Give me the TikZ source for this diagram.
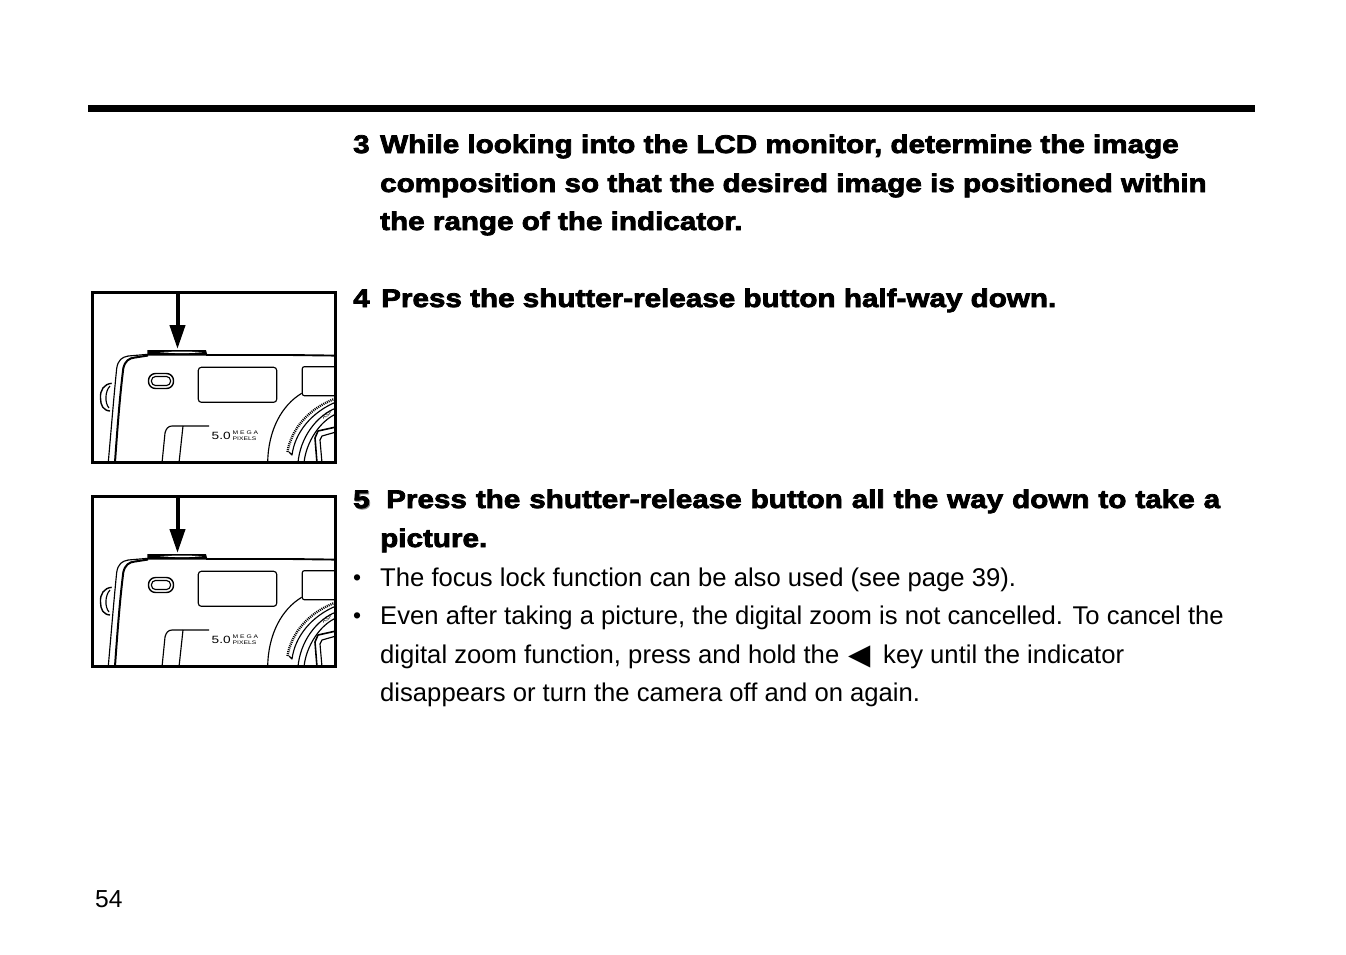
\documentclass[tikz,border=0pt]{standalone}
\usepackage{fontspec}
\usetikzlibrary{arrows.meta}
\setmainfont{Liberation Sans}
\newfontfamily\heavyfont[FakeBold=3,FakeStretch=1.162]{Liberation Sans Bold}
\newfontfamily\markfont[FakeStretch=1.3]{Liberation Sans}
\newfontfamily\symbolfont{DejaVu Sans}

\tikzset{
    heavyline/.style={anchor=base west,inner sep=0pt,font=\heavyfont\fontsize{25.5}{30}\selectfont},
    bodyline/.style={anchor=base west,inner sep=0pt,font=\fontsize{25.65}{30}\selectfont},
    bulletdot/.style={anchor=base west,inner sep=0pt,font=\fontsize{23}{30}\selectfont},
    marktext/.style={anchor=west,inner sep=0pt,align=left,font=\markfont\fontsize{5.2}{6.4}\selectfont},
    camline/.style={line width=1.15pt,line join=round},
}

\begin{document}
\begin{tikzpicture}[x=1pt,y=-1pt]
    \useasboundingbox (0,0) rectangle (1346,954);

    \fill [black] (88,105) rectangle (1255,112);

    \node [heavyline] (num3) at (353,153) {3};
    \node [heavyline] (line3a) at (380,153) {While looking into the LCD monitor, determine the image};
    \node [heavyline] (line3b) at (380,192) {composition so that the desired image is positioned within};
    \node [heavyline] (line3c) at (380,230) {the range of the indicator.};

    \node [heavyline] (num4) at (353,307) {4};
    \node [heavyline] (line4a) at (381,307) {Press the shutter-release button half-way down.};

    \node [heavyline,text=black!45] (num5back) at (354,509) {5};
    \node [heavyline] (num5) at (353,508) {5};
    \node [heavyline] (line5a) at (386,508) {\spaceskip=1.09\fontdimen2\font Press the shutter-release button all the way down to take a};
    \node [heavyline] (line5b) at (380,547) {picture.};

    \node [bulletdot] (dot1) at (353,585) {•};
    \node [bodyline] (line6a) at (380,586) {The focus lock function can be also used (see page 39).};
    \node [bulletdot] (dot2) at (353,623) {•};
    \node [bodyline] (line7a) at (380,624) {Even after taking a picture, the digital zoom is not cancelled. To cancel the};
    \node [bodyline] (line7b) at (380,663) {digital zoom function, press and hold the};
    \node [bodyline,font=\symbolfont\fontsize{29}{30}\selectfont] (keyleft) at (848,664) {◀};
    \node [bodyline] (line7c) at (883,663) {key until the indicator};
    \node [bodyline] (line7d) at (380,701) {disappears or turn the camera off and on again.};

    \node [bodyline,font=\fontsize{24.6}{30}\selectfont] (pagenum) at (95,907) {54};

    \foreach \dy/\tag in {0/a,204/b} {
        \begin{scope}[shift={(0,\dy)}]
            \begin{scope}
                \clip (92.5,292.5) rectangle (335.5,462.5);
                % body
                \draw [camline] (108.3,462) .. controls (112,420) and (114,395) .. (116.7,368.3)
                    .. controls (118,360) and (122,357) .. (128.3,356) -- (148,354.3);
                \draw [camline,line width=2pt] (115,462) .. controls (118,420) and (120,395) .. (123.3,368.3)
                    .. controls (125,361) and (129,358) .. (135,357.5) -- (148,355.5);
                \draw [camline,line width=1.9pt] (206,355) -- (290,355) -- (336,355.6);
                % shutter button
                \fill (147.3,350.2) -- (206,350.2) -- (207.5,355.5) -- (147.3,355.5) -- cycle;
                \fill [white] (160,352.2) .. controls (175,351.4) and (190,351.4) .. (202,352.2) .. controls (190,353.4) and (175,353.4) .. (160,352.2);
                % strap lug
                \draw [camline,line width=1.4pt] (111.7,383.3) .. controls (104,384) and (100,390) .. (100.5,398)
                    .. controls (100.5,405) and (103,410.5) .. (110,411);
                \draw [camline] (110,386) .. controls (105,391) and (104.5,403) .. (109,408);
                % lamp and windows
                \draw [camline,line width=1.4pt,rounded corners=7pt] (148.5,373.5) rectangle (173.5,388.5);
                \draw [camline,rounded corners=4pt] (151.5,376.5) rectangle (170.5,385.5);
                \draw [camline,rounded corners=3pt] (198.3,367.3) rectangle (276.7,402.3);
                \draw [camline,rounded corners=2pt] (340,366.7) -- (302.3,366.7) -- (302.3,395.7) -- (340,395.7);
                % lens
                \draw [camline] (301.7,393.3) .. controls (282,405) and (268,430) .. (267.7,463);
                \draw [line width=2.4pt,dash pattern=on 1pt off 1pt] (337,398) .. controls (308,408) and (291,430) .. (287.5,452);
                \draw [camline] (336,402) .. controls (312,412) and (295,432) .. (292,455) -- (289,452);
                \draw [camline] (336,408) .. controls (316,416) and (300,438) .. (298,463);
                \draw [camline] (336,414) .. controls (320,421) and (306,442) .. (304,463);
                \draw [camline,line width=1.6pt] (336,427) -- (318,431) -- (315,438) -- (317,463);
                \draw [camline] (336,432) -- (322,436) -- (320,440) -- (322,463);
                \node [rotate=32,inner sep=0pt,font=\fontsize{5.5}{6}\selectfont] (lensmark\tag) at (327,415) {ASP};
                % grip
                \draw [camline] (162,463) -- (165,433) .. controls (166,429) and (168,426) .. (172,426) -- (209,426);
                \draw [camline] (183,426) -- (179,463);
            \end{scope}
            \node [marktext,anchor=base west,font=\markfont\fontsize{10.5}{12}\selectfont] (mark\tag) at (211.5,439.5) {5.0};
            \node [marktext] (megapixels\tag) at (232.5,435.5) {M E G A\\PIXELS};
            \draw [line width=3pt] (92.5,292.5) rectangle (335.5,462.5);
            \coordinate (press\tag) at (177.5,292.5);
            \coordinate (button\tag) at (177.5,349);
            \draw [-{Triangle[length=24pt,width=15pt]},line width=4pt] (press\tag) -- (button\tag);
        \end{scope}
    }
\end{tikzpicture}
\end{document}
